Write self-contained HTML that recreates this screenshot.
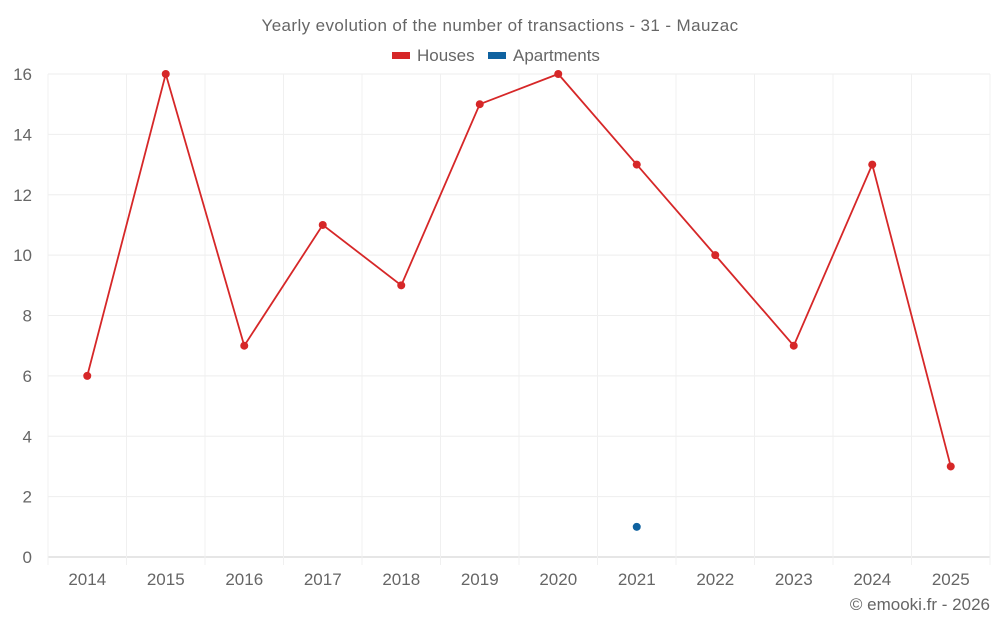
<!DOCTYPE html>
<html><head><meta charset="utf-8"><style>
body{margin:0;background:#fff;font-family:"Liberation Sans",sans-serif;}
svg text{font-family:"Liberation Sans",sans-serif;fill:#666;}
</style></head><body>
<svg id="chart" width="1000" height="625" viewBox="0 0 1000 625">
<text x="500" y="31" text-anchor="middle" font-size="17" letter-spacing="0.4">Yearly evolution of the number of transactions - 31 - Mauzac</text>
<g>
<g><rect x="392" y="52" width="18" height="7" fill="#d62728"/><text x="417" y="61" font-size="17">Houses</text></g>
<g><rect x="488" y="52" width="18" height="7" fill="#0f62a0"/><text x="513" y="61" font-size="17">Apartments</text></g>
</g>
<g id="grid"></g><g id="axes"></g><g id="series"></g>
<text x="990" y="610" text-anchor="end" font-size="17">© emooki.fr - 2026</text>
</svg>
<script>
const categories=["2014","2015","2016","2017","2018","2019","2020","2021","2022","2023","2024","2025"];
const houses=[6,16,7,11,9,15,16,13,10,7,13,3];
const apartments=[null,null,null,null,null,null,null,1,null,null,null,null];
const yTicks=[0,2,4,6,8,10,12,14,16];
const L=48,R=990,T=74,B=557,yMax=16;
const bw=(R-L)/categories.length;
const x=i=>L+bw*(i+0.5);
const y=v=>B-(v/yMax)*(B-T);
const NS="http://www.w3.org/2000/svg";
function mk(tag,attrs,parent){const e=document.createElementNS(NS,tag);for(const k in attrs)e.setAttribute(k,attrs[k]);document.getElementById(parent).appendChild(e);return e;}
yTicks.forEach(t=>{
 const l=mk('line',{x1:L,x2:R,y1:y(t),y2:y(t),stroke:t===0?'#ccc':'#eeeeee','stroke-width':1},'grid');
 
 
 const tx=mk('text',{x:32,y:y(t)+6,'text-anchor':'end','font-size':17},'axes');tx.textContent=t;
 
 
});
for(let i=0;i<=categories.length;i++){
 const l=mk('line',{x1:L+bw*i,x2:L+bw*i,y1:T,y2:B+8,stroke:'#f0f0f0','stroke-width':1},'grid');
 
 
}
categories.forEach((c,i)=>{
 const tx=mk('text',{x:x(i),y:585,'text-anchor':'middle','font-size':17},'axes');tx.textContent=c;
 
 
});
const pts=houses.map((v,i)=>v==null?null:x(i)+','+y(v)).filter(p=>p).join(' ');
const pl=mk('polyline',{points:pts,fill:'none',stroke:'#d62728','stroke-width':1.8},'series');


houses.forEach((v,i)=>{if(v==null)return;
 const c=mk('circle',{cx:x(i),cy:y(v),r:4,fill:'#d62728'},'series');
 
 
});
apartments.forEach((v,i)=>{if(v==null)return;
 const c=mk('circle',{cx:x(i),cy:y(v),r:4,fill:'#0f62a0'},'series');
 
 
});
</script>
</body></html>
